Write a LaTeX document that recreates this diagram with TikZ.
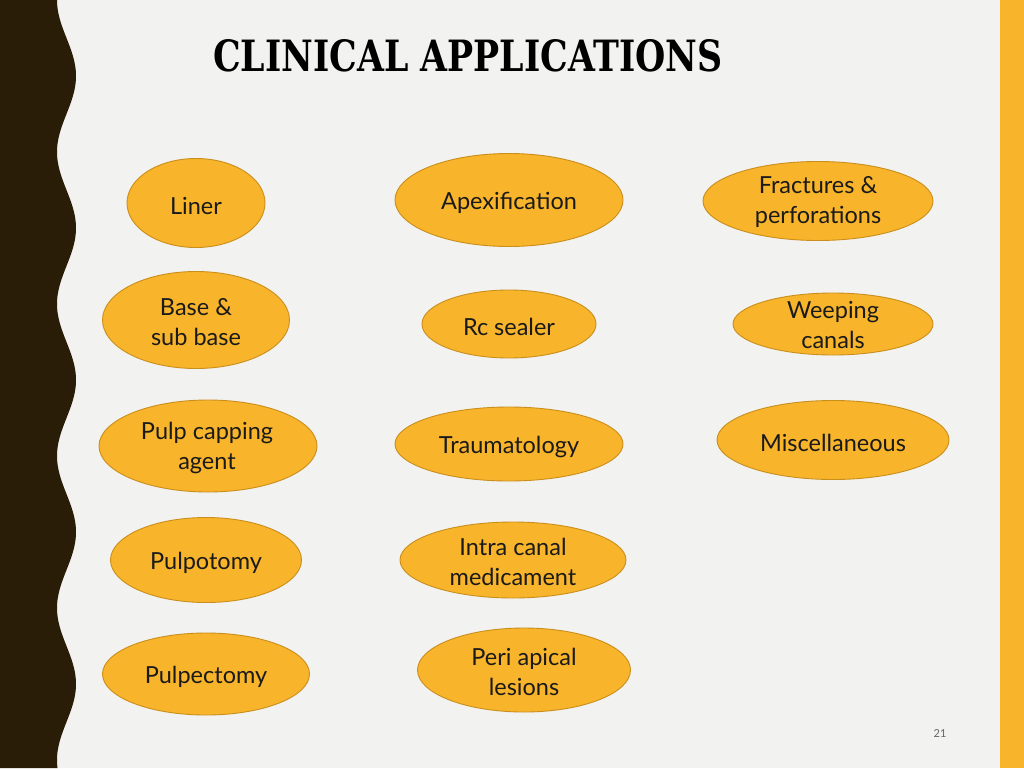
\documentclass[tikz,border=0pt]{standalone}
\usepackage{fontspec}
\setmainfont{Lato}
\newfontfamily\titlefont{DejaVu Serif}
\usetikzlibrary{shapes.geometric}
\definecolor{bgc}{HTML}{F2F2F0}
\definecolor{darkc}{HTML}{2A1D07}
\definecolor{orangec}{HTML}{F8B42A}
\definecolor{edgec}{HTML}{C98E1C}
\definecolor{txtc}{HTML}{1A1A1A}
\begin{document}
\begin{tikzpicture}[x=1pt,y=-1pt,
  bubble/.style={ellipse, draw=edgec, line width=0.9pt, fill=orangec, inner sep=0pt},
  lbl/.style={align=center, text=txtc, inner sep=0pt, font=\fontsize{23.5}{30}\selectfont},
  one/.style={lbl, yshift=-3pt}]
\useasboundingbox (0,0) rectangle (1024,768);
\fill[bgc] (0,0) rectangle (1024,768);
\fill[orangec] (1000,0) rectangle (1024,768);
\fill[darkc] (0,0) -- plot[domain=0:768, samples=240, variable=\t] ({66.5-9.5*cos(2.368421*\t)}, \t) -- (0,768) -- cycle;
% title
\node[anchor=south west, inner sep=0pt] (title) at (213,72) {\resizebox{509pt}{32pt}{\titlefont\bfseries CLINICAL APPLICATIONS}};
% bubbles
\node[bubble, minimum width=138pt, minimum height=89pt] (b1) at (196,203) {};
\node[one] (t1) at (b1) {Liner};
\node[bubble, minimum width=228pt, minimum height=93pt] (b2) at (509,200) {};
\node[one] (t2) at (b2) {Apexification};
\node[bubble, minimum width=230pt, minimum height=79pt] (b3) at (818,201) {};
\node[lbl] (t3) at (818,202) {Fractures \&\\perforations};
\node[bubble, minimum width=187pt, minimum height=97pt] (b4) at (196,320) {};
\node[lbl] (t4) at (196,322) {Base \&\\sub base};
\node[bubble, minimum width=174pt, minimum height=68pt] (b5) at (509,324) {};
\node[one] (t5) at (b5) {Rc sealer};
\node[bubble, minimum width=200pt, minimum height=62pt] (b6) at (833,324) {};
\node[lbl] (t6) at (833,325) {Weeping\\canals};
\node[bubble, minimum width=218pt, minimum height=92pt] (b7) at (208,446) {};
\node[lbl] (t7) at (207,448) {Pulp capping\\agent};
\node[bubble, minimum width=228pt, minimum height=74pt] (b8) at (509,444) {};
\node[one] (t8) at (b8) {Traumatology};
\node[bubble, minimum width=232pt, minimum height=79pt] (b9) at (833,440) {};
\node[one] (t9) at (b9) {Miscellaneous};
\node[bubble, minimum width=191pt, minimum height=85pt] (b10) at (206,560) {};
\node[one] (t10) at (b10) {Pulpotomy};
\node[bubble, minimum width=226pt, minimum height=76pt] (b11) at (513,560) {};
\node[lbl] (t11) at (513,562) {Intra canal\\medicament};
\node[bubble, minimum width=207pt, minimum height=82pt] (b12) at (206,674) {};
\node[one] (t12) at (b12) {Pulpectomy};
\node[bubble, minimum width=213pt, minimum height=84pt] (b13) at (524,670) {};
\node[lbl] (t13) at (524,672) {Peri apical\\lesions};
% page number
\node[text=gray!80!black, font=\fontsize{11}{13}\selectfont, inner sep=0pt] (pg) at (940,734) {21};
\end{tikzpicture}
\end{document}
